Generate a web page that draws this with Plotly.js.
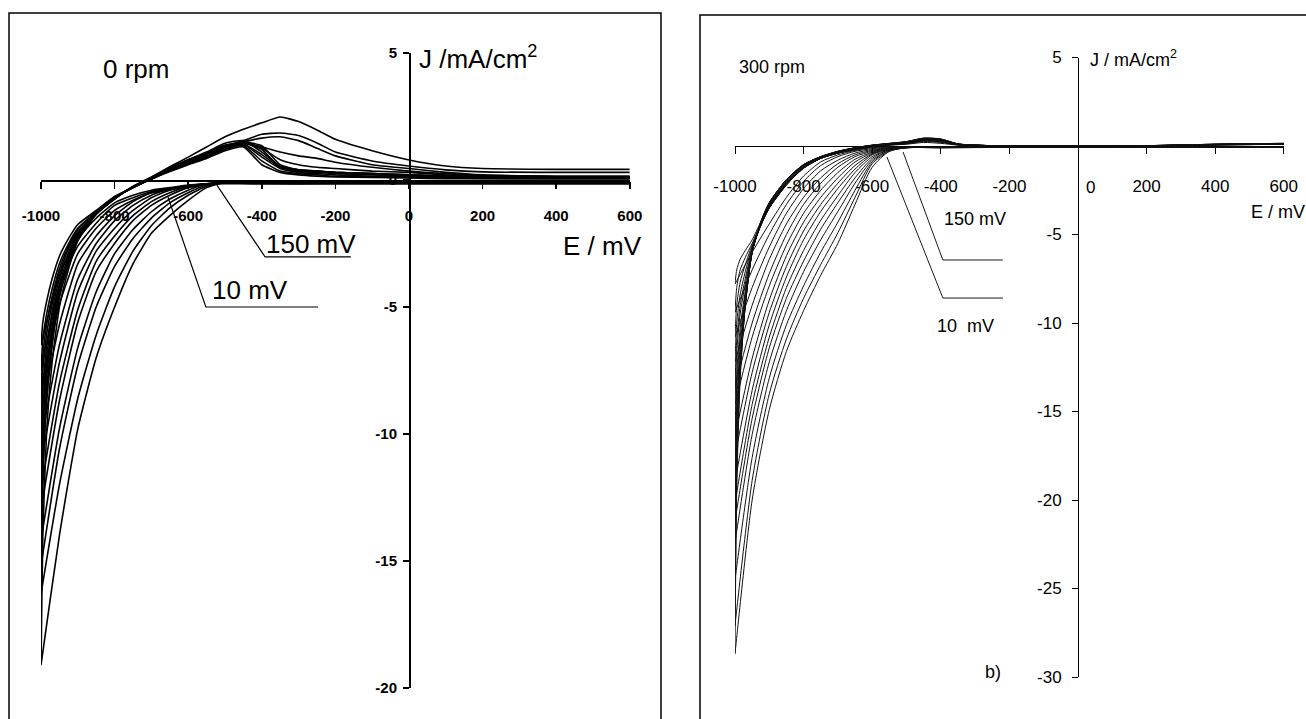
<!DOCTYPE html>
<html>
<head>
<meta charset="utf-8">
<script src="https://cdn.plot.ly/plotly-3.0.1.min.js"></script>
<style>
  html, body { margin: 0; padding: 0; background: #ffffff; }
  #chart { width: 1306px; height: 719px; }
</style>
</head>
<body>
<div id="chart"></div>
<script>
// ---------- shared potential grids (mV) ----------
const E_FWD = [600, 400, 200, 0, -200, -400, -500, -550, -600, -650, -700, -750, -800, -850, -900, -950, -1000];
const E_REV = [-1000, -995, -985, -970, -950, -925, -900, -850, -800, -750, -700, -650, -600, -550, -500, -450, -400, -350, -300, -250, -200, -100, 0, 100, 200, 400, 600];

// ---------- panel a) 0 rpm : current density (mA/cm2) ----------
const jFwdA = [
  [-0.1,-0.1,-0.1,-0.1,-0.1,-0.1,-0.12,-0.15,-0.2,-0.3,-0.4,-0.6,-0.9,-1.5,-2.3,-3.7,-6.5],
  [-0.12,-0.12,-0.12,-0.12,-0.12,-0.12,-0.12,-0.15,-0.22,-0.33,-0.45,-0.7,-1.0,-1.7,-2.6,-4.2,-7.5],
  [-0.08,-0.08,-0.08,-0.1,-0.1,-0.1,-0.12,-0.15,-0.25,-0.35,-0.5,-0.8,-1.2,-1.9,-2.9,-4.9,-8.3],
  [-0.15,-0.15,-0.15,-0.15,-0.15,-0.15,-0.15,-0.16,-0.25,-0.38,-0.5,-0.85,-1.4,-2.2,-3.3,-5.7,-9.2],
  [-0.1,-0.1,-0.1,-0.1,-0.1,-0.1,-0.12,-0.18,-0.28,-0.35,-0.6,-1.0,-1.6,-2.5,-3.9,-6.5,-10.3],
  [-0.12,-0.12,-0.12,-0.12,-0.12,-0.12,-0.12,-0.18,-0.22,-0.4,-0.7,-1.2,-1.9,-2.8,-4.4,-7.2,-11.2],
  [-0.1,-0.1,-0.1,-0.1,-0.1,-0.1,-0.12,-0.18,-0.25,-0.5,-0.85,-1.4,-2.2,-3.2,-5.1,-8.0,-12.2],
  [-0.15,-0.15,-0.15,-0.15,-0.15,-0.15,-0.12,-0.15,-0.3,-0.6,-1.0,-1.6,-2.5,-3.6,-5.6,-8.7,-13.0],
  [-0.1,-0.1,-0.1,-0.1,-0.1,-0.1,-0.1,-0.15,-0.4,-0.75,-1.25,-1.95,-2.9,-4.4,-6.6,-9.8,-14.2],
  [-0.12,-0.12,-0.12,-0.12,-0.12,-0.12,-0.1,-0.2,-0.5,-0.9,-1.5,-2.3,-3.4,-5.0,-7.3,-10.6,-15.2],
  [-0.1,-0.1,-0.1,-0.1,-0.1,-0.1,-0.1,-0.25,-0.6,-1.1,-1.8,-2.8,-4.2,-6.1,-8.6,-12.0,-16.3],
  [-0.12,-0.12,-0.12,-0.12,-0.12,-0.12,-0.1,-0.3,-0.8,-1.4,-2.1,-3.3,-5.0,-7.0,-9.8,-14.0,-19.1]
];
const jRevA = [
  [-6.5,-5.6,-4.8,-3.9,-3.0,-2.3,-1.75,-1.2,-0.65,-0.28,0.03,0.33,0.6,0.85,1.15,1.3,0.6,0.3,0.2,0.15,0.12,0.1,0.08,0.05,0.05,0.05,0.05],
  [-7.5,-6.3,-5.3,-4.3,-3.3,-2.5,-1.9,-1.25,-0.68,-0.3,0.04,0.35,0.62,0.9,1.2,1.35,0.75,0.35,0.25,0.2,0.15,0.12,0.1,0.08,0.06,0.05,0.05],
  [-8.3,-6.9,-5.7,-4.6,-3.5,-2.6,-1.95,-1.25,-0.7,-0.3,0.05,0.37,0.65,0.92,1.22,1.4,0.9,0.45,0.3,0.25,0.2,0.15,0.12,0.1,0.08,0.06,0.06],
  [-9.2,-7.5,-6.1,-4.9,-3.7,-2.7,-2.05,-1.3,-0.7,-0.3,0.05,0.38,0.68,0.95,1.27,1.42,1.0,0.5,0.35,0.3,0.25,0.2,0.15,0.12,0.1,0.08,0.08],
  [-10.3,-8.2,-6.6,-5.2,-3.9,-2.85,-2.1,-1.3,-0.72,-0.3,0.06,0.4,0.7,0.98,1.3,1.5,1.35,0.6,0.4,0.35,0.3,0.25,0.2,0.15,0.12,0.1,0.1],
  [-11.2,-8.9,-7.0,-5.5,-4.1,-3.0,-2.15,-1.3,-0.72,-0.28,0.07,0.42,0.72,1.0,1.32,1.45,1.2,0.5,0.4,0.35,0.3,0.25,0.2,0.16,0.12,0.1,0.1],
  [-12.2,-9.5,-7.4,-5.8,-4.3,-3.1,-2.2,-1.32,-0.72,-0.28,0.07,0.44,0.75,1.05,1.35,1.5,1.25,0.8,0.6,0.5,0.45,0.35,0.3,0.2,0.15,0.12,0.12],
  [-13.0,-10.0,-7.8,-6.0,-4.4,-3.2,-2.25,-1.33,-0.73,-0.27,0.08,0.46,0.78,1.08,1.38,1.45,1.3,1.1,0.95,0.85,0.7,0.5,0.35,0.25,0.18,0.15,0.15],
  [-14.2,-10.8,-8.3,-6.3,-4.5,-3.3,-2.3,-1.33,-0.73,-0.27,0.08,0.48,0.8,1.1,1.45,1.55,1.1,0.55,0.4,0.35,0.3,0.25,0.2,0.15,0.1,0.1,0.1],
  [-15.2,-11.5,-8.7,-6.5,-4.6,-3.35,-2.35,-1.35,-0.74,-0.26,0.1,0.47,0.78,1.05,1.3,1.5,1.65,1.7,1.55,1.25,0.95,0.6,0.45,0.3,0.2,0.15,0.15],
  [-16.3,-12.0,-8.8,-6.5,-4.6,-3.3,-2.3,-1.35,-0.74,-0.25,0.1,0.48,0.8,1.05,1.3,1.55,1.8,1.85,1.75,1.46,1.1,0.75,0.55,0.4,0.32,0.3,0.3],
  [-19.1,-14.0,-10.0,-7.2,-5.0,-3.5,-2.4,-1.35,-0.75,-0.25,0.12,0.52,0.9,1.3,1.7,2.0,2.25,2.48,2.3,1.97,1.6,1.15,0.79,0.55,0.45,0.42,0.42]
];

// ---------- panel b) 300 rpm ----------
const jFwdB = [
  [-0.05,-0.05,-0.04,-0.05,-0.05,-0.05,-0.05,-0.05,-0.1,-0.25,-0.5,-0.9,-1.7,-2.9,-4.4,-6.0,-7.8],
  [-0.03,-0.03,-0.05,-0.05,-0.06,-0.06,-0.05,-0.05,-0.15,-0.3,-0.6,-1.1,-2.0,-3.3,-5.0,-7.0,-9.4],
  [-0.06,-0.06,-0.05,-0.05,-0.05,-0.07,-0.07,-0.1,-0.2,-0.4,-0.8,-1.4,-2.4,-3.8,-5.7,-8.0,-10.8],
  [-0.04,-0.04,-0.04,-0.06,-0.06,-0.06,-0.06,-0.1,-0.25,-0.5,-1.0,-1.8,-2.9,-4.4,-6.4,-9.0,-12.2],
  [-0.05,-0.05,-0.05,-0.05,-0.07,-0.07,-0.07,-0.1,-0.3,-0.6,-1.2,-2.1,-3.3,-5.0,-7.2,-10.0,-13.6],
  [-0.06,-0.06,-0.06,-0.06,-0.06,-0.08,-0.08,-0.12,-0.35,-0.75,-1.5,-2.5,-3.8,-5.6,-7.9,-10.8,-14.6],
  [-0.05,-0.05,-0.05,-0.05,-0.05,-0.06,-0.08,-0.15,-0.4,-0.9,-1.8,-2.9,-4.3,-6.2,-8.7,-12.0,-16.4],
  [-0.07,-0.07,-0.07,-0.07,-0.07,-0.08,-0.08,-0.15,-0.45,-1.1,-2.1,-3.3,-4.8,-6.8,-9.4,-12.8,-17.5],
  [-0.04,-0.04,-0.05,-0.05,-0.06,-0.07,-0.08,-0.18,-0.5,-1.3,-2.4,-3.7,-5.3,-7.4,-10.1,-13.8,-19.0],
  [-0.06,-0.06,-0.06,-0.06,-0.07,-0.08,-0.09,-0.2,-0.6,-1.5,-2.8,-4.2,-5.9,-8.0,-10.8,-14.6,-20.2],
  [-0.05,-0.05,-0.05,-0.06,-0.06,-0.08,-0.09,-0.2,-0.7,-1.8,-3.2,-4.7,-6.5,-8.6,-11.4,-15.4,-21.2],
  [-0.07,-0.07,-0.06,-0.06,-0.07,-0.09,-0.1,-0.25,-0.8,-2.1,-3.7,-5.3,-7.1,-9.3,-12.2,-16.3,-22.4],
  [-0.05,-0.05,-0.05,-0.05,-0.06,-0.09,-0.1,-0.25,-0.9,-2.5,-4.3,-6.0,-7.9,-10.1,-13.1,-17.6,-24.5],
  [-0.06,-0.06,-0.06,-0.07,-0.07,-0.1,-0.1,-0.3,-1.0,-2.9,-4.9,-6.7,-8.6,-10.9,-14.0,-18.9,-27.1],
  [-0.05,-0.05,-0.06,-0.06,-0.08,-0.1,-0.1,-0.3,-1.2,-3.3,-5.5,-7.3,-9.3,-11.6,-14.9,-20.0,-28.7]
];
const jRevB = [
  [-7.8,-7.0,-6.4,-5.9,-5.3,-4.3,-3.4,-2.1,-1.2,-0.7,-0.4,-0.2,-0.05,0.05,0.1,0.2,0.15,0.05,0.02,0,0,0,0,0,0,0.05,0.1],
  [-9.4,-8.0,-7.0,-6.3,-5.5,-4.4,-3.45,-2.15,-1.25,-0.7,-0.4,-0.2,-0.05,0.05,0.12,0.25,0.2,0.06,0.03,0.01,0,0,0,0,0,0.06,0.1],
  [-10.8,-9.0,-7.7,-6.7,-5.6,-4.45,-3.5,-2.15,-1.25,-0.7,-0.4,-0.2,-0.03,0.06,0.14,0.28,0.24,0.07,0.03,0.01,0,0,0,0,0,0.06,0.1],
  [-12.2,-10.0,-8.4,-7.1,-5.7,-4.5,-3.5,-2.2,-1.25,-0.7,-0.4,-0.2,-0.03,0.07,0.15,0.3,0.26,0.08,0.04,0.01,0,0,0,0,0,0.07,0.11],
  [-13.6,-11.0,-9.0,-7.5,-5.8,-4.5,-3.5,-2.2,-1.25,-0.7,-0.4,-0.18,-0.02,0.08,0.16,0.32,0.28,0.08,0.04,0.01,0,0,0,0,0.01,0.07,0.11],
  [-14.6,-11.7,-9.5,-7.8,-5.85,-4.5,-3.5,-2.2,-1.2,-0.7,-0.38,-0.17,-0.01,0.08,0.17,0.33,0.3,0.09,0.04,0.01,0,0,0,0,0.01,0.08,0.12],
  [-16.4,-12.9,-10.3,-8.2,-5.9,-4.5,-3.45,-2.15,-1.2,-0.68,-0.37,-0.15,0.0,0.09,0.18,0.35,0.32,0.09,0.04,0.01,0,0,0,0,0.01,0.08,0.12],
  [-17.5,-13.6,-10.8,-8.4,-5.95,-4.45,-3.4,-2.1,-1.15,-0.67,-0.35,-0.14,0.01,0.1,0.19,0.36,0.33,0.1,0.04,0.02,0,0,0,0,0.01,0.08,0.13],
  [-19.0,-14.5,-11.3,-8.6,-6.0,-4.4,-3.35,-2.05,-1.12,-0.65,-0.34,-0.13,0.02,0.11,0.2,0.38,0.34,0.1,0.05,0.02,0,0,0,0,0.01,0.09,0.13],
  [-20.2,-15.3,-11.8,-8.8,-6.0,-4.4,-3.3,-2.0,-1.1,-0.64,-0.33,-0.12,0.03,0.12,0.21,0.39,0.35,0.11,0.05,0.02,0,0,0,0,0.01,0.09,0.14],
  [-21.2,-16.0,-12.2,-8.9,-6.0,-4.35,-3.3,-2.0,-1.08,-0.62,-0.32,-0.11,0.03,0.13,0.22,0.4,0.36,0.11,0.05,0.02,0,0,0,0,0.02,0.09,0.14],
  [-22.4,-16.8,-12.5,-9.0,-6.0,-4.35,-3.25,-1.95,-1.06,-0.61,-0.31,-0.11,0.04,0.13,0.23,0.42,0.37,0.11,0.05,0.02,0,0,0,0,0.02,0.1,0.14],
  [-24.5,-17.8,-12.8,-9.0,-6.0,-4.3,-3.2,-1.9,-1.05,-0.6,-0.3,-0.1,0.04,0.14,0.24,0.43,0.38,0.12,0.05,0.02,0,0,0,0,0.02,0.1,0.15],
  [-27.1,-18.8,-13.0,-9.0,-6.0,-4.3,-3.2,-1.9,-1.05,-0.6,-0.3,-0.1,0.05,0.15,0.25,0.44,0.39,0.12,0.05,0.02,0,0,0,0,0.02,0.1,0.15],
  [-28.7,-19.5,-13.2,-9.0,-6.0,-4.3,-3.2,-1.9,-1.05,-0.6,-0.3,-0.1,0.05,0.15,0.25,0.45,0.4,0.12,0.05,0.02,0,0,0,0,0.02,0.1,0.15]
];

// ---------- leader lines for the scan-rate labels ----------
const leadA150E = [-522, -391, -158];
const leadA150J = [-0.2, -3.03, -3.03];
const leadA10E  = [-655, -552, -247];
const leadA10J  = [-0.67, -5.0, -5.0];
const leadB150E = [-510, -394, -219];
const leadB150J = [-0.34, -6.44, -6.44];
const leadB10E  = [-557, -394, -219];
const leadB10J  = [-0.62, -8.59, -8.59];

// ---------- tick labels ----------
const xTickVals = [-1000, -800, -600, -400, -200, 0, 200, 400, 600];
const xTickTextA = ['-1000', '-800', '-600', '-400', '-200', '0', '200', '400', '600'];
const xTickTextB = ['-1000', '-800', '-600', '-400', '-200', '', '200', '400', '600'];
const yTickValsA = [5, 0, -5, -10, -15, -20];
const yTickTextA = ['5', '0', '-5', '-10', '-15', '-20'];
const yTickValsB = [5, -5, -10, -15, -20, -25, -30];
const yTickTextB = ['5', '-5', '-10', '-15', '-20', '-25', '-30'];

// ---------- build traces ----------
const traces = [];
jFwdA.forEach((f, i) => {
  traces.push({
    x: E_FWD.concat(E_REV), y: f.concat(jRevA[i]),
    xaxis: 'x', yaxis: 'y', type: 'scatter', mode: 'lines',
    line: { color: '#000000', width: 1.6, shape: 'spline', smoothing: 0.5 }, hoverinfo: 'skip'
  });
});
jFwdB.forEach((f, i) => {
  traces.push({
    x: E_FWD.concat(E_REV), y: f.concat(jRevB[i]),
    xaxis: 'x2', yaxis: 'y2', type: 'scatter', mode: 'lines',
    line: { color: '#111111', width: 1, shape: 'spline', smoothing: 0.7 }, hoverinfo: 'skip'
  });
});
[[leadA150E, leadA150J, 'x', 'y', 1.2], [leadA10E, leadA10J, 'x', 'y', 1.2],
 [leadB150E, leadB150J, 'x2', 'y2', 0.9], [leadB10E, leadB10J, 'x2', 'y2', 0.9]].forEach(d => {
  traces.push({ x: d[0], y: d[1], xaxis: d[2], yaxis: d[3], type: 'scatter', mode: 'lines',
    line: { color: '#000000', width: d[4] }, hoverinfo: 'skip', cliponaxis: false });
});

// ---------- layout ----------
const W = 1306, H = 719;
const px = v => v / W;
const py = v => 1 - v / H;
const SANS = 'Liberation Sans, Arial, sans-serif';

const axBase = {
  showgrid: false, zeroline: false, showline: true, linecolor: '#000000',
  ticks: 'outside', tickcolor: '#000000', anchor: 'free', layer: 'below traces',
  tickmode: 'array', fixedrange: true
};

const annA = { xref: 'x', yref: 'y', showarrow: false, font: { family: SANS, size: 26, color: '#000000' } };
const annB = { xref: 'x2', yref: 'y2', showarrow: false, font: { family: SANS, size: 18, color: '#000000' } };

const layout = {
  width: W, height: H,
  margin: { l: 0, r: 0, t: 0, b: 0, pad: 0 },
  paper_bgcolor: '#ffffff', plot_bgcolor: 'rgba(0,0,0,0)',
  showlegend: false,
  xaxis: Object.assign({}, axBase, {
    domain: [px(41), px(629.8)], range: [-1000, 600], position: py(180),
    linewidth: 1.5, ticklen: 7, tickwidth: 1.5,
    tickvals: xTickVals, ticktext: xTickTextA, ticklabelstandoff: 14,
    tickfont: { family: SANS, size: 15, color: '#000000', weight: 'bold' }
  }),
  yaxis: Object.assign({}, axBase, {
    domain: [py(688), py(53)], range: [-20, 5], position: px(409),
    linewidth: 1.5, ticklen: 6, tickwidth: 1.5,
    tickvals: yTickValsA, ticktext: yTickTextA, ticklabelstandoff: 3,
    tickfont: { family: SANS, size: 15, color: '#000000', weight: 'bold' }
  }),
  xaxis2: Object.assign({}, axBase, {
    domain: [px(735), px(1283.8)], range: [-1000, 600], position: py(146),
    linewidth: 1.2, ticklen: 7, tickwidth: 1,
    tickvals: xTickVals, ticktext: xTickTextB, ticklabelstandoff: 17,
    tickfont: { family: SANS, size: 17, color: '#000000' }
  }),
  yaxis2: Object.assign({}, axBase, {
    domain: [py(677), py(57.5)], range: [-30, 5], position: px(1078),
    linewidth: 1.2, ticklen: 6, tickwidth: 1,
    tickvals: yTickValsB, ticktext: yTickTextB, ticklabelstandoff: 7,
    tickfont: { family: SANS, size: 17, color: '#000000' }
  }),
  shapes: [
    { type: 'rect', xref: 'paper', yref: 'paper', x0: px(9), x1: px(661), y0: py(730), y1: py(13),
      line: { color: '#000000', width: 1.5 }, fillcolor: 'rgba(0,0,0,0)', layer: 'below' },
    { type: 'rect', xref: 'paper', yref: 'paper', x0: px(700), x1: px(1315), y0: py(730), y1: py(15),
      line: { color: '#000000', width: 1.5 }, fillcolor: 'rgba(0,0,0,0)', layer: 'below' }
  ],
  annotations: [
    Object.assign({}, annA, { text: '0 rpm', x: -742, y: 4.37 }),
    Object.assign({}, annA, { text: 'J /mA/cm<sup>2</sup>', x: 22, y: 4.84, xanchor: 'left' }),
    Object.assign({}, annA, { text: '150 mV', x: -266, y: -2.52 }),
    Object.assign({}, annA, { text: '10 mV', x: -432, y: -4.33 }),
    Object.assign({}, annA, { text: 'E / mV', x: 527, y: -2.6 }),
    Object.assign({}, annA, { text: 'a)', x: -329, y: -20.04 }),
    Object.assign({}, annB, { text: '300 rpm', x: -892, y: 4.46 }),
    Object.assign({}, annB, { text: 'J / mA/cm<sup>2</sup>', x: 29, y: 4.97, xanchor: 'left' }),
    Object.assign({}, annB, { text: '150 mV', x: -300, y: -4.12 }),
    Object.assign({}, annB, { text: '10  mV', x: -327, y: -10.17 }),
    Object.assign({}, annB, { text: 'E / mV', x: 582, y: -3.73 }),
    Object.assign({}, annB, { text: 'b)', x: -248, y: -29.7 }),
    Object.assign({}, annB, { text: '0', x: 0, y: 0, xshift: 12, yshift: -41, font: { family: SANS, size: 17, color: '#000000' } })
  ]
};

Plotly.newPlot('chart', traces, layout, { staticPlot: true, displayModeBar: false });
</script>
</body>
</html>
